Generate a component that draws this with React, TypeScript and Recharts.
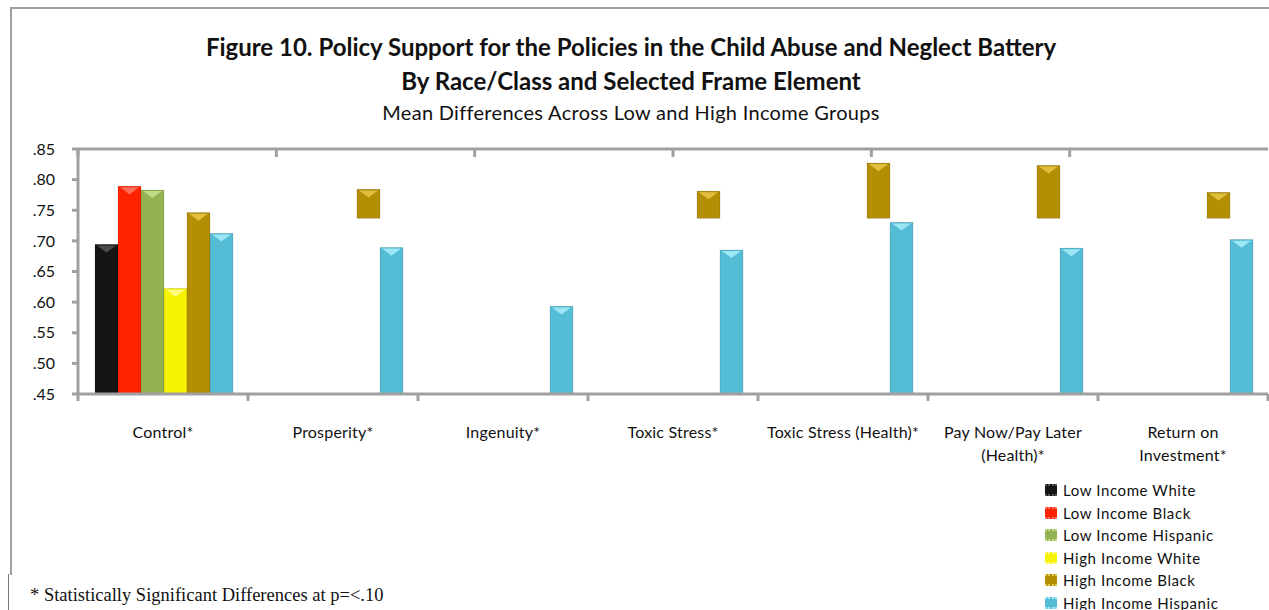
import React from 'react';
import { ComposedChart, Bar, XAxis, YAxis, Legend } from 'recharts';

const categories = ['Control*', 'Prosperity*', 'Ingenuity*', 'Toxic Stress*', 'Toxic Stress (Health)*', 'Pay Now/Pay Later (Health)*', 'Return on Investment*'];
const categoryLines = [['Control*'], ['Prosperity*'], ['Ingenuity*'], ['Toxic Stress*'], ['Toxic Stress (Health)*'], ['Pay Now/Pay Later', '(Health)*'], ['Return on', 'Investment*']];

const lowWhite = [0.694, null, null, null, null, null, null];
const lowBlack = [0.789, null, null, null, null, null, null];
const lowHispanic = [0.783, null, null, null, null, null, null];
const highWhite = [0.622, null, null, null, null, null, null];
const highBlack = [0.746, 0.784, null, 0.781, 0.827, 0.823, 0.779];
const highBlackVisibleFrom = [null, 0.737, null, 0.737, 0.737, 0.737, 0.737];
const highHispanic = [0.712, 0.689, 0.593, 0.685, 0.730, 0.688, 0.702];

const yTicks = [0.45, 0.5, 0.55, 0.6, 0.65, 0.7, 0.75, 0.8, 0.85];
const boundaryTicks = [0, 1, 2, 3, 4, 5, 6, 7];

const series = [
  { key: 'lw', name: 'Low Income White', color: '#151515', light: '#555555' },
  { key: 'lb', name: 'Low Income Black', color: '#ff2200', light: '#ff7a66' },
  { key: 'lh', name: 'Low Income Hispanic', color: '#93b352', light: '#c9e08f' },
  { key: 'hw', name: 'High Income White', color: '#f6f200', light: '#ffff99' },
  { key: 'hb', name: 'High Income Black', color: '#b38f05', light: '#e8c84a' },
  { key: 'hh', name: 'High Income Hispanic', color: '#55bcd6', light: '#a8ecfa' },
];

const data = categories.map((c, i) => ({
  cat: c,
  lw: lowWhite[i],
  lb: lowBlack[i],
  lh: lowHispanic[i],
  hw: highWhite[i],
  hb: highBlack[i] == null ? null : highBlackVisibleFrom[i] == null ? highBlack[i] : [highBlackVisibleFrom[i], highBlack[i]],
  hh: highHispanic[i],
}));

const FONT = 'Lato, "Open Sans", sans-serif';
const GRAY = '#a0a0a0';

let gid = 0;
const makeShape = (color: string, light: string) => (props: any) => {
  const { x, y, width, height } = props;
  if (!width || !height || height <= 0) return null;
  const id = 'g' + (gid++);
  const tri = Math.min(width * 0.35, height);
  return (
    <g>
      <defs>
        <linearGradient id={id} x1="0" y1="0" x2="1" y2="0">
          <stop offset="0" stopColor={color} stopOpacity={0.85} />
          <stop offset="0.5" stopColor={color} />
          <stop offset="1" stopColor={color} stopOpacity={0.75} />
        </linearGradient>
      </defs>
      <rect x={x} y={y} width={width} height={height} fill={color} />
      <rect x={x} y={y} width={width} height={height} fill={`url(#${id})`} />
      <rect x={x} y={y} width={width} height={height} fill="none" stroke="#000" strokeOpacity={0.12} strokeWidth={1} />
      <polygon points={`${x + 2},${y + 1} ${x + width - 2},${y + 1} ${x + width / 2},${y + tri}`} fill={light} opacity={0.85} />
    </g>
  );
};

// Category label, plus the category-boundary tick marks (band edges from the axis' own band offset)
const CatTick = (props: any) => {
  const { x, y, index, payload } = props;
  const half = payload && payload.offset ? payload.offset : 0;
  const lines = categoryLines[index] || [];
  const axisY = y - 3;
  return (
    <g>
      <line x1={x - half} x2={x - half} y1={axisY} y2={axisY + 7} stroke={GRAY} strokeWidth={3} />
      {index === categories.length - 1 && (
        <line x1={x + half} x2={x + half} y1={axisY} y2={axisY + 7} stroke={GRAY} strokeWidth={3} />
      )}
      <text x={x} y={y} textAnchor="middle" fontFamily={FONT} fontSize={16} letterSpacing={0.2} fill="#111">
        {lines.map((l, i) => (
          <tspan key={i} x={x} dy={i === 0 ? 41 : 23}>{l}</tspan>
        ))}
      </text>
    </g>
  );
};

const EmptyTick = () => <g />;

const renderLegend = () => (
  <div style={{ fontFamily: FONT, fontSize: 15, letterSpacing: 0.6, color: '#111', lineHeight: '22.5px' }}>
    {series.map((s) => (
      <div key={s.key} style={{ display: 'flex', alignItems: 'center' }}>
        <span style={{ display: 'inline-block', width: 12, height: 12, background: s.color, marginRight: 6, borderTop: `2px dotted ${s.light}`, borderBottom: `2px dotted ${s.light}`, boxSizing: 'border-box' }} />
        <span>{s.name}</span>
      </div>
    ))}
  </div>
);

export default function App() {
  return (
    <div style={{ position: 'absolute', left: 0, top: 0, width: 1269, height: 610, background: '#fff', overflow: 'hidden' }}>
      <div style={{ position: 'absolute', left: 10, top: 7, width: 1259, height: 568, borderLeft: `2px solid ${GRAY}`, borderTop: `2px solid ${GRAY}`, boxSizing: 'border-box' }} />
      <div style={{ position: 'absolute', left: 8, top: 574, width: 0, height: 40, borderLeft: `1px solid #777` }} />
      <div style={{ position: 'absolute', left: 0, width: 1262, top: 30, textAlign: 'center', fontFamily: FONT, fontWeight: 700, fontSize: 24, lineHeight: '34px', color: '#111' }}>
        <div>Figure 10. Policy Support for the Policies in the Child Abuse and Neglect Battery</div>
        <div>By Race/Class and Selected Frame Element</div>
      </div>
      <div style={{ position: 'absolute', left: 0, width: 1262, top: 100, textAlign: 'center', fontFamily: FONT, fontSize: 20, letterSpacing: 0.3, color: '#111' }}>
        Mean Differences Across Low and High Income Groups
      </div>
      <div style={{ position: 'absolute', left: 30, top: 585, fontFamily: '"Liberation Serif", "Times New Roman", serif', fontSize: 18.5, color: '#111' }}>
        * Statistically Significant Differences at p=&lt;.10
      </div>
      <div style={{ position: 'absolute', left: 0, top: 0 }}>
        <ComposedChart width={1269} height={610} data={data} margin={{ top: 149, right: 1, bottom: 156, left: 0 }} barCategoryGap="10%" barGap={0}>
          <XAxis xAxisId="top" orientation="top" type="number" domain={[0, 7]} ticks={boundaryTicks} height={1} tick={<EmptyTick />} mirror axisLine={{ stroke: GRAY, strokeWidth: 3 }} tickLine={{ stroke: GRAY, strokeWidth: 3 }} tickSize={8} allowDataOverflow />
          <XAxis dataKey="cat" interval={0} height={60} axisLine={{ stroke: GRAY, strokeWidth: 3 }} tickLine={false} tickSize={0} tickMargin={3} tick={<CatTick />} />
          <YAxis domain={[0.45, 0.85]} ticks={yTicks} width={78} allowDataOverflow interval={0}
            tickFormatter={(v: number) => v.toFixed(2).replace(/^0/, '')}
            axisLine={{ stroke: GRAY, strokeWidth: 3 }} tickLine={{ stroke: GRAY, strokeWidth: 3 }} tickSize={6} tickMargin={17}
            tick={{ fontFamily: FONT, fontSize: 16, fill: '#111' }} />
          <Legend layout="vertical" align="center" verticalAlign="middle" content={renderLegend}
            wrapperStyle={{ position: 'absolute', left: 1045, top: 479, width: 224, height: 135 }} />
          {series.map((s) => (
            <Bar key={s.key} dataKey={s.key} name={s.name} fill={s.color} isAnimationActive={false} shape={makeShape(s.color, s.light)} />
          ))}
        </ComposedChart>
      </div>
    </div>
  );
}
